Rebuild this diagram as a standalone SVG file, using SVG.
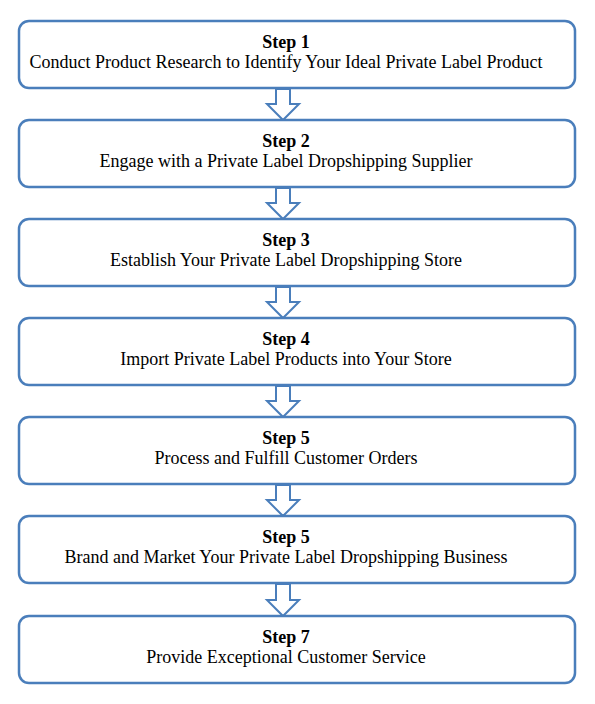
<svg xmlns="http://www.w3.org/2000/svg" width="595" height="704" viewBox="0 0 595 704">
<defs>
<style>
.box{fill:#fff;stroke:#4a7ebb;stroke-width:2.5}
.arr{fill:#fff;stroke:#4a7ebb;stroke-width:2;stroke-linejoin:miter}
.t{font-family:"Liberation Serif","Times New Roman",serif;font-size:18px;fill:#000;text-anchor:middle}
.b{font-weight:bold}
</style>
</defs>
<rect width="595" height="704" fill="#fff"/>
<g id="connectors">
<polygon class="arr" points="276,89 290,89 290,104 299,104 283,120 267,104 276,104"/>
<polygon class="arr" points="276,188 290,188 290,203 299,203 283,219 267,203 276,203"/>
<polygon class="arr" points="276,287 290,287 290,302 299,302 283,318 267,302 276,302"/>
<polygon class="arr" points="276,386 290,386 290,401 299,401 283,417 267,401 276,401"/>
<polygon class="arr" points="276,485 290,485 290,500 299,500 283,516 267,500 276,500"/>
<polygon class="arr" points="276,584 290,584 290,600 299,600 283,616 267,600 276,600"/>
</g>
<g id="step1"><rect class="box" x="19" y="21" width="556" height="67" rx="10"/><text class="t b" x="286" y="48">Step 1</text><text class="t" x="286" y="68">Conduct Product Research to Identify Your Ideal Private Label Product</text></g>
<g id="step2"><rect class="box" x="19" y="120" width="556" height="67" rx="10"/><text class="t b" x="286" y="147">Step 2</text><text class="t" x="286" y="167">Engage with a Private Label Dropshipping Supplier</text></g>
<g id="step3"><rect class="box" x="19" y="219" width="556" height="67" rx="10"/><text class="t b" x="286" y="246">Step 3</text><text class="t" x="286" y="266">Establish Your Private Label Dropshipping Store</text></g>
<g id="step4"><rect class="box" x="19" y="318" width="556" height="67" rx="10"/><text class="t b" x="286" y="345">Step 4</text><text class="t" x="286" y="365">Import Private Label Products into Your Store</text></g>
<g id="step5"><rect class="box" x="19" y="417" width="556" height="67" rx="10"/><text class="t b" x="286" y="444">Step 5</text><text class="t" x="286" y="464">Process and Fulfill Customer Orders</text></g>
<g id="step6"><rect class="box" x="19" y="516" width="556" height="67" rx="10"/><text class="t b" x="286" y="543">Step 5</text><text class="t" x="286" y="563">Brand and Market Your Private Label Dropshipping Business</text></g>
<g id="step7"><rect class="box" x="19" y="616" width="556" height="67" rx="10"/><text class="t b" x="286" y="643">Step 7</text><text class="t" x="286" y="663">Provide Exceptional Customer Service</text></g>
</svg>
